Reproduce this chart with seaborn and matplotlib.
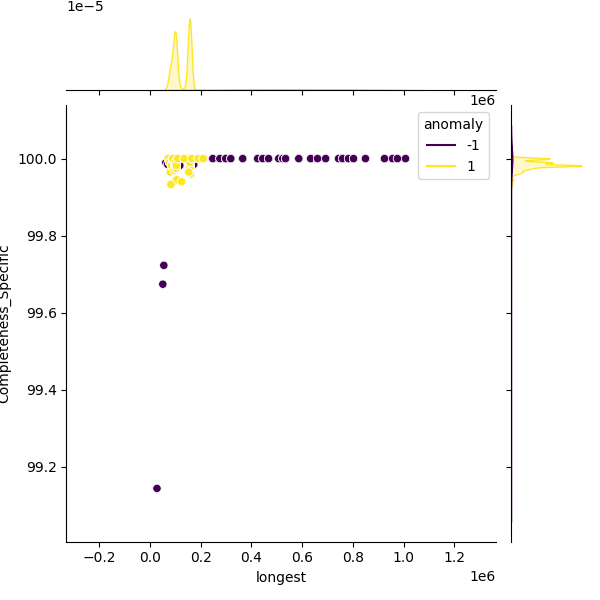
import numpy as np
import pandas as pd
import seaborn as sns
import matplotlib
matplotlib.use("Agg")
import matplotlib.pyplot as plt
from matplotlib.lines import Line2D

# ============================
# DATA
# ============================
# many records sit on top of each other in the scatter, so every visible
# point carries an estimated record count (read from the marginal densities)

# anomaly = -1 (purple)
neg_longest = [
    0.028e6, 0.051e6, 0.055e6, 0.063e6, 0.070e6, 0.118e6, 0.173e6,
    0.213e6, 0.248e6, 0.276e6, 0.299e6, 0.319e6, 0.366e6, 0.425e6,
    0.445e6, 0.468e6, 0.508e6, 0.524e6, 0.535e6, 0.587e6, 0.634e6,
    0.661e6, 0.693e6, 0.744e6, 0.760e6, 0.783e6, 0.803e6, 0.850e6,
    0.925e6, 0.957e6, 0.976e6, 1.008e6,
]
neg_completeness = [
    99.144, 99.674, 99.723, 99.990, 99.985, 99.982, 99.985,
    100.0, 100.0, 100.0, 100.0, 100.0, 100.0, 100.0,
    100.0, 100.0, 100.0, 100.0, 100.0, 100.0, 100.0,
    100.0, 100.0, 100.0, 100.0, 100.0, 100.0, 100.0,
    100.0, 100.0, 100.0, 100.0,
]
neg_count = [
    1, 1, 1, 2, 2, 2, 2,
    4, 4, 4, 6, 6, 6, 6,
    6, 6, 6, 6, 6, 6, 6,
    6, 6, 6, 6, 6, 6, 6,
    4, 4, 4, 4,
]

# anomaly = 1 (yellow)
pos_longest = [
    0.072e6, 0.078e6, 0.080e6, 0.085e6, 0.090e6, 0.095e6, 0.098e6,
    0.100e6, 0.102e6, 0.104e6, 0.105e6, 0.083e6, 0.110e6, 0.125e6,
    0.150e6, 0.155e6, 0.157e6, 0.158e6, 0.159e6, 0.160e6, 0.156e6,
    0.157e6, 0.153e6,
    0.135e6, 0.165e6, 0.190e6, 0.210e6,
]
pos_completeness = [
    100.0, 99.990, 99.965, 99.982, 100.0, 99.970, 99.982,
    99.990, 99.975, 99.982, 99.945, 99.933, 100.0, 99.940,
    100.0, 99.990, 99.982, 100.0, 99.982, 99.960, 99.975,
    99.990, 99.965,
    100.0, 100.0, 100.0, 100.0,
]
pos_count = [
    30, 60, 60, 80, 100, 80, 170,
    150, 120, 100, 20, 10, 40, 10,
    80, 110, 200, 100, 130, 50, 60,
    80, 30,
    10, 10, 5, 5,
]

df = pd.DataFrame({
    "longest": neg_longest + pos_longest,
    "Completeness_Specific": neg_completeness + pos_completeness,
    "anomaly": [-1] * len(neg_longest) + [1] * len(pos_longest),
    "count": neg_count + pos_count,
})
# one row per record
df = df.loc[df.index.repeat(df["count"])].reset_index(drop=True)

# ============================
# PLOT
# ============================

g = sns.jointplot(data=df, x="longest", y="Completeness_Specific",
                  hue="anomaly", palette="viridis", height=6)

cmap = plt.get_cmap("viridis")
handles = [Line2D([], [], color=cmap(0.0), label="-1"),
           Line2D([], [], color=cmap(1.0), label="1")]
old = g.ax_joint.get_legend()
if old is not None:
    old.remove()
g.ax_joint.legend(handles=handles, title="anomaly", loc="upper right")

g.figure.savefig("out.png", dpi=100)
